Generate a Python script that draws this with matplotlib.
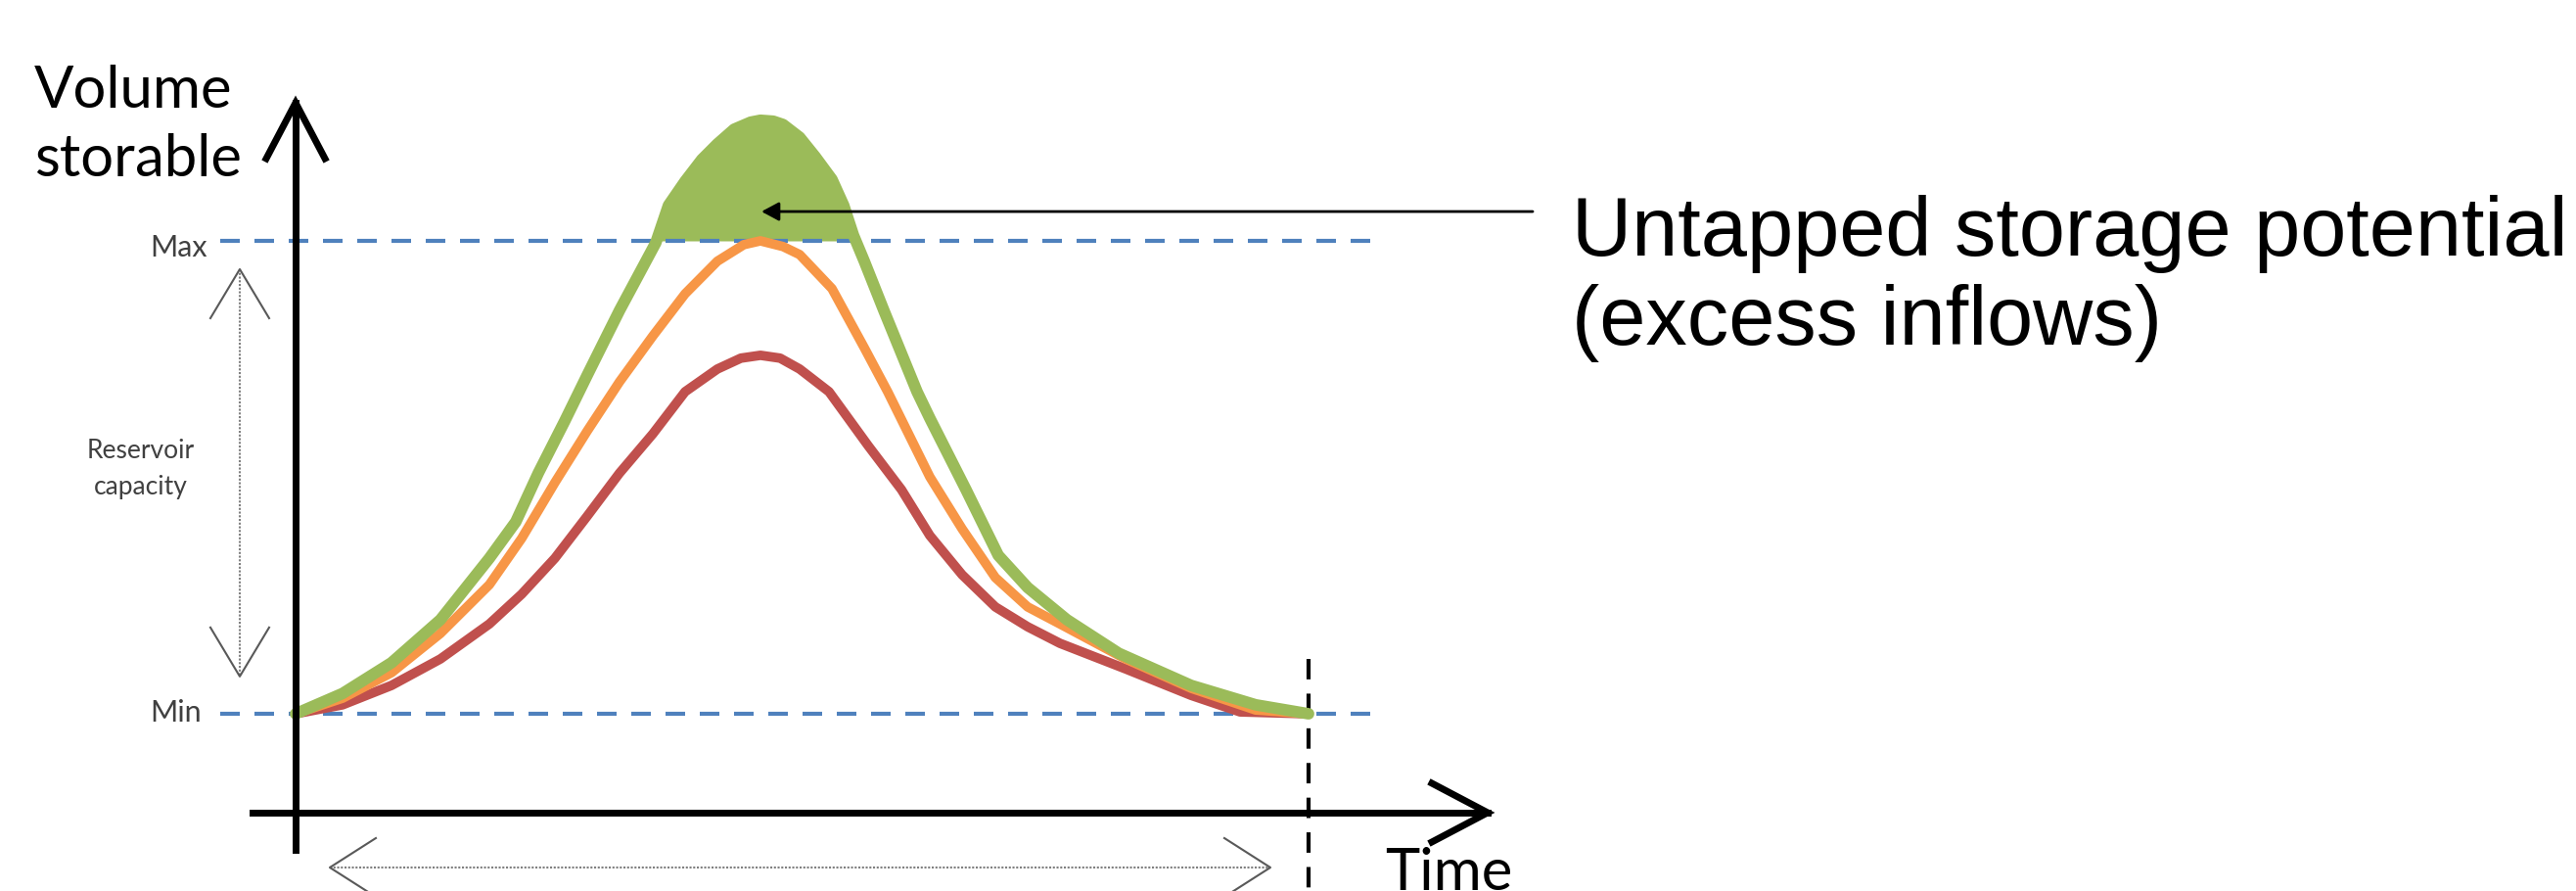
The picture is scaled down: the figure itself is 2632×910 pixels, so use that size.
import matplotlib.pyplot as plt

# Time axis: 0 = start of season, 10 = end (vertical dashed line)
# Volume axis: 0 = Min level, 1 = Max level
green_t = [0, 0.464, 0.947, 1.430, 1.913, 2.174, 2.396, 2.657, 2.879, 3.072, 3.198,
           3.391, 3.556, 3.681, 3.845, 4.010, 4.164, 4.329, 4.493, 4.589, 4.715,
           4.812, 4.976, 5.130, 5.295, 5.411, 5.507, 5.614, 5.807, 6.135, 6.261,
           6.618, 6.937, 7.227, 7.614, 8.126, 8.841, 9.478, 10]
green_v = [0, 0.043, 0.108, 0.199, 0.329, 0.406, 0.509, 0.619, 0.716, 0.799, 0.853,
           0.930, 0.996, 1.075, 1.126, 1.172, 1.205, 1.236, 1.251, 1.255, 1.253,
           1.246, 1.219, 1.178, 1.130, 1.075, 1.012, 0.957, 0.853, 0.681, 0.625,
           0.474, 0.335, 0.267, 0.199, 0.128, 0.060, 0.019, 0]

orange_t = [0, 0.464, 0.947, 1.430, 1.913, 2.232, 2.560, 2.879, 3.198, 3.527, 3.845,
            4.164, 4.425, 4.589, 4.812, 4.976, 5.295, 5.614, 5.845, 6.261, 6.580,
            6.908, 7.227, 7.546, 8.193, 8.841, 9.478, 10]
orange_v = [0, 0.033, 0.087, 0.170, 0.273, 0.371, 0.489, 0.598, 0.702, 0.799, 0.888,
            0.957, 0.992, 1.0, 0.988, 0.971, 0.899, 0.774, 0.681, 0.501, 0.391,
            0.288, 0.226, 0.190, 0.116, 0.054, 0.008, 0]

red_t = [0, 0.464, 0.947, 1.430, 1.913, 2.232, 2.560, 2.879, 3.198, 3.527, 3.845,
         4.164, 4.396, 4.589, 4.783, 4.976, 5.266, 5.652, 5.981, 6.261, 6.580,
         6.908, 7.227, 7.546, 8.193, 8.841, 9.324, 10]
red_v = [0, 0.019, 0.060, 0.116, 0.190, 0.253, 0.329, 0.418, 0.509, 0.592, 0.681,
         0.729, 0.752, 0.758, 0.752, 0.729, 0.681, 0.567, 0.474, 0.377, 0.294,
         0.226, 0.184, 0.149, 0.095, 0.039, 0.004, 0]

v_max, v_min = 1.0, 0.0
t_end = 10

GREEN = "#9BBB59"
ORANGE = "#F79646"
RED = "#C0504D"
BLUE = "#4F81BD"
GREY = "#404040"

fig = plt.figure(figsize=(26.32, 9.10), dpi=100)
ax = fig.add_axes([0, 0, 1, 1])
ax.set_xlim(-2.918, 22.512)
ax.set_ylim(-0.3747, 1.5093)
ax.axis("off")

# pixel -> data unit helpers (for arrow heads)
px_t = 1 / 103.5
px_v = 1 / 483.0

# untapped storage (green above Max)
ax.fill_between(green_t, green_v, v_max, where=[g >= v_max for g in green_v],
                interpolate=True, color=GREEN, lw=0, zorder=2)

# Max / Min levels
for lvl in (v_max, v_min):
    ln, = ax.plot([-0.744, 10.61], [lvl, lvl], color=BLUE, lw=3, zorder=3)
    ln.set_dashes((4.8, 3.6))

ax.plot(red_t, red_v, color=RED, lw=7, solid_joinstyle="round", solid_capstyle="round", zorder=4)
ax.plot(orange_t, orange_v, color=ORANGE, lw=7, solid_joinstyle="round", solid_capstyle="round", zorder=5)
ax.plot(green_t, green_v, color=GREEN, lw=8.5, solid_joinstyle="round", solid_capstyle="round", zorder=6)

# end of season dashed line
ln, = ax.plot([t_end, t_end], [0.116, -0.40], color="black", lw=3, zorder=3)
ln.set_dashes((5, 3.5))

# axes with open arrow heads
ax.plot([0, 0], [-0.288, 1.292], color="black", lw=5, zorder=7)
ax.plot([-30 * px_t, 0, 30 * px_t], [1.292 - 57 * px_v, 1.292, 1.292 - 57 * px_v],
        color="black", lw=5, solid_joinstyle="miter", zorder=7)
x_axis_v = -0.209
ax.plot([-0.425, 11.768], [x_axis_v, x_axis_v], color="black", lw=5, zorder=7)
ax.plot([11.768 - 57 * px_t, 11.768, 11.768 - 57 * px_t],
        [x_axis_v + 30 * px_v, x_axis_v, x_axis_v - 30 * px_v],
        color="black", lw=5, solid_joinstyle="miter", zorder=7)

# reservoir capacity double arrow
cap_t = -0.551
top_v, bot_v = 0.940, 0.079
ax.plot([cap_t, cap_t], [top_v, bot_v], color="#808080", lw=1.5, ls=(0, (1, 0.8)))
for tip, sgn in ((top_v, -1), (bot_v, 1)):
    ax.plot([cap_t - 30 * px_t, cap_t, cap_t + 30 * px_t],
            [tip + sgn * 50 * px_v, tip, tip + sgn * 50 * px_v], color="#595959", lw=1.5)

# season length double arrow
season_v = -0.325
left_t, right_t = 0.338, 9.623
ax.plot([left_t, right_t], [season_v, season_v], color="#808080", lw=1.5, ls=(0, (1, 0.8)))
for tip, sgn in ((left_t, 1), (right_t, -1)):
    ax.plot([tip + sgn * 47 * px_t, tip, tip + sgn * 47 * px_t],
            [season_v + 30 * px_v, season_v, season_v - 30 * px_v], color="#595959", lw=1.5)

# labels (multi-line texts: y is the baseline of the last line)
ax.text(-2.58, 1.137, "Volume\nstorable", fontsize=43, family="Lato", ha="left",
        va="baseline", linespacing=1.37)
ax.text(10.75, -0.372, "Time", fontsize=43, family="Lato", ha="left", va="baseline")
ax.text(-1.44, 0.967, "Max", fontsize=22, family="Lato", color=GREY, va="baseline")
ax.text(-1.44, -0.017, "Min", fontsize=22, family="Lato", color=GREY, va="baseline")
ax.text(-1.53, 0.464, "Reservoir\ncapacity", fontsize=19, family="Lato", color=GREY,
        ha="center", va="baseline", linespacing=1.6)

ax.annotate("", xy=(4.599, 1.062), xytext=(12.213, 1.062),
            arrowprops=dict(arrowstyle="-|>,head_length=0.54,head_width=0.29",
                            mutation_scale=20, color="black", lw=2,
                            shrinkA=0, shrinkB=0), zorder=8)
ax.text(12.596, 0.780, "Untapped storage potential\n(excess inflows)", fontsize=61,
        family="Liberation Sans", ha="left", va="baseline", linespacing=1.18)

fig.savefig("out.png", dpi=100)
